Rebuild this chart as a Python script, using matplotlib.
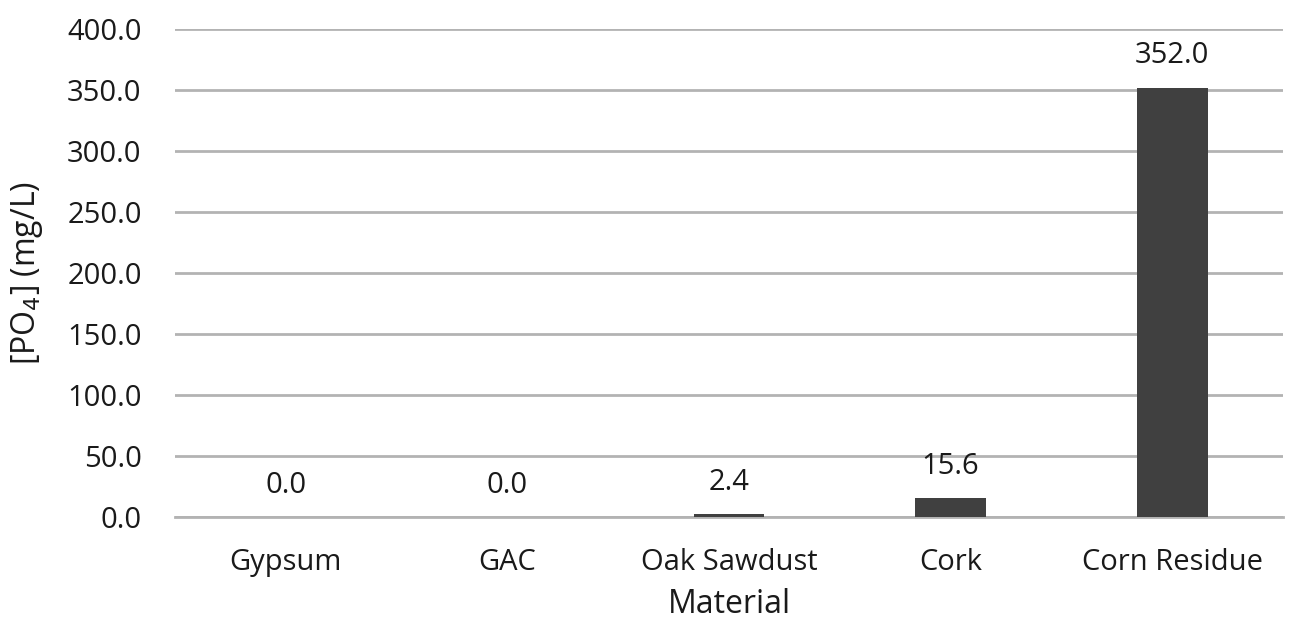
import numpy as np
import matplotlib.pyplot as plt

materials = ["Gypsum", "GAC", "Oak Sawdust", "Cork", "Corn Residue"]
po4 = [0.0, 0.0, 2.4, 15.6, 352.0]

plt.rcParams['font.family'] = ['Open Sans', 'DejaVu Sans']

fig = plt.figure(figsize=(12.9, 6.23), dpi=100)
ax = fig.add_axes([175 / 1290, 1 - 517 / 623, (1283 - 175) / 1290, (517 - 29) / 623])

x = np.arange(len(materials))
ax.bar(x, po4, width=0.32, color='#404040', zorder=3)
for xi, v in zip(x, po4):
    ax.text(xi, v + 14, f"{v:.1f}", ha='center', va='bottom', fontsize=21, color='#1a1a1a')

ax.set_xlim(-0.5, len(materials) - 0.5)
ax.set_ylim(0, 400)
ax.set_yticks(np.arange(0, 401, 50))
ax.set_yticklabels([f"{t:.1f}" for t in np.arange(0, 401, 50)])
ax.set_xticks(x)
ax.set_xticklabels(materials)
ax.tick_params(axis='both', length=0, labelsize=21, colors='#1a1a1a')
ax.tick_params(axis='y', pad=24)
ax.tick_params(axis='x', pad=22)

ax.grid(axis='y', color='#b3b3b3', linewidth=2, zorder=0)
for s in ['top', 'right', 'left']:
    ax.spines[s].set_visible(False)
ax.spines['bottom'].set_color('#b3b3b3')
ax.spines['bottom'].set_linewidth(2)

ax.set_xlabel("Material", fontsize=23, color='#1a1a1a', labelpad=8)
ax.set_ylabel("[PO$_4$] (mg/L)", fontsize=23, color='#1a1a1a', labelpad=16)

fig.savefig("out.png", dpi=100)
